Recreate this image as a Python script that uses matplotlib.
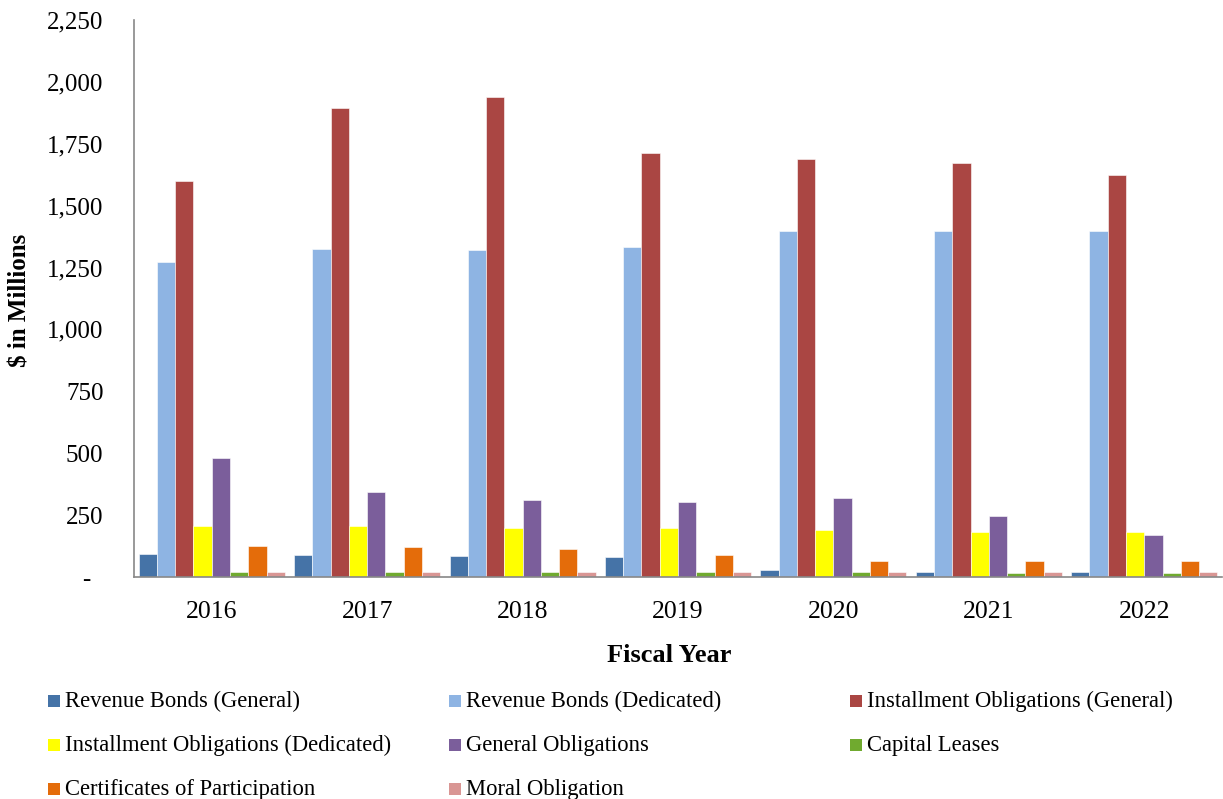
import matplotlib
matplotlib.use("Agg")
import matplotlib.pyplot as plt
from matplotlib.patches import Rectangle
from matplotlib.ticker import FuncFormatter
import numpy as np

plt.rcParams['font.family'] = ['Liberation Serif', 'DejaVu Serif']

years = ["2016", "2017", "2018", "2019", "2020", "2021", "2022"]

# debt outstanding, $ millions
rev_general = [93, 87, 85, 81, 28, 20, 20]
rev_dedicated = [1272, 1325, 1321, 1335, 1398, 1398, 1398]
inst_general = [1600, 1895, 1939, 1713, 1689, 1673, 1624]
inst_dedicated = [205, 204, 196, 196, 188, 183, 183]
gen_obligations = [480, 343, 313, 303, 319, 245, 168]
cap_leases = [20, 20, 20, 20, 20, 16, 16]
cert_participation = [125, 121, 114, 90, 65, 65, 65]
moral_obligation = [20, 20, 20, 20, 20, 20, 20]

series = [
    ("Revenue Bonds (General)", rev_general, "#4573A7"),
    ("Revenue Bonds (Dedicated)", rev_dedicated, "#8EB4E3"),
    ("Installment Obligations (General)", inst_general, "#AA4643"),
    ("Installment Obligations (Dedicated)", inst_dedicated, "#FFFF00"),
    ("General Obligations", gen_obligations, "#7B5E9B"),
    ("Capital Leases", cap_leases, "#70AA2F"),
    ("Certificates of Participation", cert_participation, "#E46C0A"),
    ("Moral Obligation", moral_obligation, "#D99694"),
]

W, H = 1223, 799
fig = plt.figure(figsize=(W / 100, H / 100), dpi=100)
ax = fig.add_axes([134 / W, 1 - 577 / H, (1222 - 134) / W, (577 - 20) / H])

x = np.arange(len(years))
n = len(series)
bw = 0.94 / n
for i, (name, vals, col) in enumerate(series):
    ax.bar(x - 0.47 + bw * (i + 0.5), vals, width=bw, color=col,
           edgecolor="white", linewidth=0.4, zorder=2)

ax.set_xlim(-0.5, len(years) - 0.5)
ax.set_ylim(0, 2250)
ax.set_yticks(np.arange(0, 2251, 250))
# accounting style: zero shown as a dash
ax.yaxis.set_major_formatter(FuncFormatter(lambda v, p: "-  " if v == 0 else f"{v:,.0f}"))
ax.set_xticks(x)
ax.set_xticklabels(years)
ax.tick_params(axis="y", length=0, pad=22, labelsize=18)
ax.tick_params(axis="x", length=0, pad=17, labelsize=18.5)

for s in ["top", "right"]:
    ax.spines[s].set_visible(False)
for s in ["left", "bottom"]:
    ax.spines[s].set_color("#888888")
    ax.spines[s].set_linewidth(1.2)

fig.text(20 / W, 1 - 300 / H, "$ in Millions", rotation=90, fontsize=18,
         fontweight="bold", ha="center", va="center")
fig.text(669 / W, 1 - 656 / H, "Fiscal Year", fontsize=19,
         fontweight="bold", ha="center", va="center")

# legend laid out row by row in three columns
col_x = [48, 449, 850]
row_y = [701, 745, 789]
for i, (name, vals, col) in enumerate(series):
    r, c = divmod(i, 3)
    px, py = col_x[c], row_y[r]
    fig.add_artist(Rectangle((px / W, 1 - (py + 6) / H), 12 / W, 12 / H,
                             transform=fig.transFigure, facecolor=col,
                             edgecolor="none"))
    fig.text((px + 17) / W, 1 - py / H, name, fontsize=16.3,
             ha="left", va="center")

fig.savefig("out.png", dpi=100)
